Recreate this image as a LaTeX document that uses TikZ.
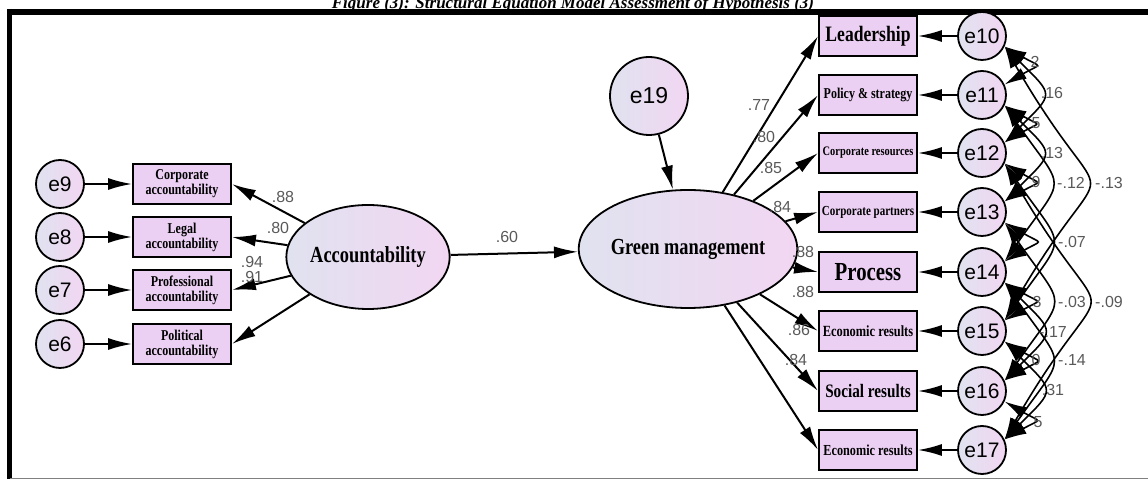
\documentclass[tikz,border=0pt]{standalone}
\usepackage{fontspec}
\setmainfont{Liberation Serif}
\newfontfamily\boxfont{Liberation Serif}[FakeStretch=0.8]
\newfontfamily\sansfont{Liberation Sans}
\usetikzlibrary{arrows.meta,shapes.geometric,positioning}
\definecolor{boxfill}{RGB}{236,208,244}
\definecolor{circA}{RGB}{224,226,240}
\definecolor{circB}{RGB}{242,214,242}
\def\fs#1{\fontsize{#1}{#1}\selectfont}

\begin{document}
\begin{tikzpicture}
	[x=1pt, y=1pt,
		obs/.style={
		  rectangle,
		  draw=black,
		  line width=1.8pt,
		  fill=boxfill,
		  minimum width=98pt,
		  minimum height=40pt,
		  inner sep=1pt,
		  align=center,
		  font=\boxfont\bfseries
		},
		err/.style={
		  circle,
		  draw=black,
		  line width=1.8pt,
		  left color=circA,
		  right color=circB,
		  minimum size=48pt,
		  inner sep=0pt,
		  font=\sansfont\fs{21}
		},
		latent/.style={
		  ellipse,
		  draw=black,
		  line width=1.8pt,
		  left color=circA,
		  right color=circB,
		  inner sep=0pt,
		  font=\boxfont\bfseries\fs{23}
		},
		path/.style={-{Latex[length=24pt,width=12pt]}, line width=2pt},
		cov/.style={{Latex[length=22pt,width=12pt]}-{Latex[length=22pt,width=12pt]}, line width=1.6pt},
		cova/.style={cov, out=-30, in=30, looseness=2.95},
		covb/.style={cov, out=-45, in=45, looseness=1.88},
		covc/.style={cov, out=-55, in=55, looseness=1.78},
		cove/.style={cov, out=-60, in=60, looseness=2.08},
		lbl/.style={font=\sansfont\fs{16}, text=black!65, inner sep=0pt}
	]
	\useasboundingbox (0,0) rectangle (1148,481);
	\clip (0,0) rectangle (1148,481);

	% title and frame
	\node[font=\bfseries\itshape\fs{17}, anchor=base] (title) at (573,472) {Figure (3): Structural Equation Model Assessment of Hypothesis (3)};
	\draw[line width=6pt] (7,469) -- (1148,469);
	\draw[line width=5pt] (9.5,472) -- (9.5,2);
	\draw[gray, line width=1pt] (9.5,2) -- (1148,2);

	% accountability side
	\node[err] (e9) at (60,297) {e9};
	\node[err] (e8) at (60,244) {e8};
	\node[err] (e7) at (60,191) {e7};
	\node[err] (e6) at (60,137) {e6};
	\node[obs, font=\boxfont\bfseries\fs{15}] (corp) at (182,297) {Corporate\\accountability};
	\node[obs, font=\boxfont\bfseries\fs{15}] (legal) at (182,244) {Legal\\accountability};
	\node[obs, font=\boxfont\bfseries\fs{15}] (prof) at (182,191) {Professional\\accountability};
	\node[obs, font=\boxfont\bfseries\fs{15}] (polit) at (182,137) {Political\\accountability};
	\node[latent, minimum width=140pt, minimum height=104pt] (acc) at (368,224) {Accountability};

	\draw[path] (e9) -- (corp);
	\draw[path] (e8) -- (legal);
	\draw[path] (e7) -- (prof);
	\draw[path] (e6) -- (polit);
	\draw[path] (acc) -- (corp.east);
	\draw[path] (acc) -- (legal.east);
	\draw[path] (acc) -- (prof.east);
	\draw[path] (acc) -- (polit.east);

	% green management side
	\node[latent, minimum width=172pt, minimum height=118pt] (gm) at (688,232) {Green management};
	\node[err, minimum size=78pt, font=\sansfont\fs{23}] (e19) at (649,385) {e19};
	\draw[path] (acc) -- (gm);
	\draw[path] (e19) -- (gm);

	\node[obs, font=\boxfont\bfseries\fs{22}] (lead) at (868,445) {Leadership};
	\node[obs, font=\boxfont\bfseries\fs{15}] (policy) at (868,386) {Policy \& strategy};
	\node[obs, font=\boxfont\bfseries\fs{13}] (cres) at (868,328) {Corporate resources};
	\node[obs, font=\boxfont\bfseries\fs{13.8}] (cpart) at (868,269) {Corporate partners};
	\node[obs, font=\boxfont\bfseries\fs{26}] (proc) at (868,209) {Process};
	\node[obs, font=\boxfont\bfseries\fs{15.5}] (econ) at (868,150) {Economic results};
	\node[obs, font=\boxfont\bfseries\fs{19}] (social) at (868,90) {Social results};
	\node[obs, font=\boxfont\bfseries\fs{15.3}] (econb) at (868,31) {Economic results};

	\node[err] (e10) at (982,445) {e10};
	\node[err] (e11) at (982,386) {e11};
	\node[err] (e12) at (982,328) {e12};
	\node[err] (e13) at (982,269) {e13};
	\node[err] (e14) at (982,209) {e14};
	\node[err] (e15) at (982,150) {e15};
	\node[err] (e16) at (982,90) {e16};
	\node[err] (e17) at (982,31) {e17};

	\draw[path] (gm) -- (lead.west);
	\draw[path] (gm) -- (policy.west);
	\draw[path] (gm) -- (cres.west);
	\draw[path] (gm) -- (cpart.west);
	\draw[path] (gm) -- (proc.west);
	\draw[path] (gm) -- (econ.west);
	\draw[path] (gm) -- (social.west);
	\draw[path] (gm) -- (econb.west);

	\draw[path] (e10) -- (lead);
	\draw[path] (e11) -- (policy);
	\draw[path] (e12) -- (cres);
	\draw[path] (e13) -- (cpart);
	\draw[path] (e14) -- (proc);
	\draw[path] (e15) -- (econ);
	\draw[path] (e16) -- (social);
	\draw[path] (e17) -- (econb);

	% covariances
	\draw[cova] (e10.-25) to (e11.25);
	\draw[cova] (e11.-25) to (e12.25);
	\draw[cova] (e12.-25) to (e13.25);
	\draw[cova] (e13.-25) to (e14.25);
	\draw[cova] (e14.-25) to (e15.25);
	\draw[cova] (e15.-25) to (e16.25);
	\draw[cova] (e16.-25) to (e17.25);
	\draw[covb] (e10.-25) to (e12.25);
	\draw[covb] (e11.-25) to (e13.25);
	\draw[covb] (e14.-25) to (e16.25);
	\draw[covb] (e15.-25) to (e17.25);
	\draw[covc] (e11.-25) to (e14.25);
	\draw[covc] (e12.-25) to (e15.25);
	\draw[covc] (e13.-25) to (e16.25);
	\draw[covc] (e14.-25) to (e17.25);
	\draw[cove] (e10.-25) to (e15.25);
	\draw[cove] (e12.-25) to (e17.25);

	% estimates
	\node[lbl] (l88a) at (283,284) {.88};
	\node[lbl] (l80a) at (278,253) {.80};
	\node[lbl] (l94) at (252,219) {.94};
	\node[lbl] (l91) at (252,204) {.91};
	\node[lbl] (l60) at (507,244) {.60};
	\node[lbl] (l77) at (759,376) {.77};
	\node[lbl] (l80b) at (764,344) {.80};
	\node[lbl] (l85) at (771,313) {.85};
	\node[lbl] (l84a) at (780,274) {.84};
	\node[lbl] (l88b) at (803,229) {.88};
	\node[lbl] (l88c) at (803,189) {.88};
	\node[lbl] (l86) at (799,151) {.86};
	\node[lbl] (l84b) at (796,121) {.84};

	\node[lbl] (c1) at (1035,419) {2};
	\node[lbl] (c2) at (1036,358) {5};
	\node[lbl] (c3) at (1036,299) {9};
	\node[lbl] (c4) at (1037,179) {3};
	\node[lbl] (c5) at (1036,121) {0};
	\node[lbl] (c6) at (1038,59) {5};
	\node[lbl] (c7) at (1052,388) {.16};
	\node[lbl] (c8) at (1052,328) {.13};
	\node[lbl] (c9) at (1071,298) {-.12};
	\node[lbl] (c10) at (1109,298) {-.13};
	\node[lbl] (c11) at (1072,239) {-.07};
	\node[lbl] (c12) at (1072,179) {-.03};
	\node[lbl] (c13) at (1109,179) {-.09};
	\node[lbl] (c14) at (1053,149) {-.17};
	\node[lbl] (c15) at (1072,121) {-.14};
	\node[lbl] (c16) at (1053,91) {.31};
\end{tikzpicture}
\end{document}
